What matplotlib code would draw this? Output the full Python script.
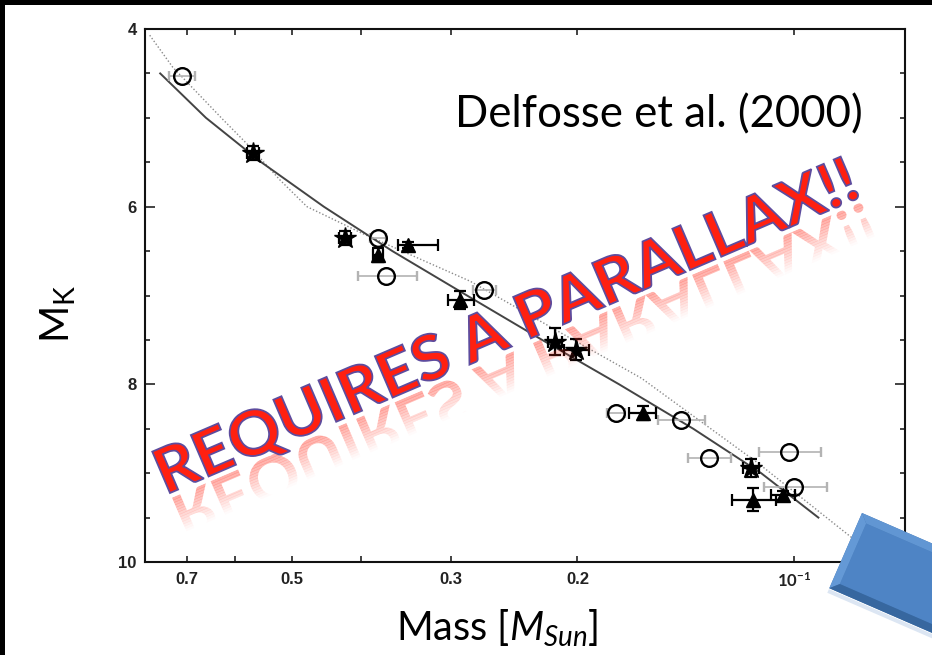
import numpy as np
import matplotlib
matplotlib.use('Agg')
import matplotlib.pyplot as plt
import matplotlib.ticker as ticker
from matplotlib import rcParams
from matplotlib.textpath import TextPath
from matplotlib.font_manager import FontProperties
from matplotlib.patches import PathPatch, Polygon, Rectangle
from matplotlib.transforms import Affine2D

rcParams['font.family']      = ['Lato', 'DejaVu Sans']
rcParams['mathtext.fontset'] = 'custom'
rcParams['mathtext.rm']      = 'Lato'
rcParams['mathtext.it']      = 'Lato:italic'
rcParams['mathtext.bf']      = 'Lato:bold'

# Data.

# Solid curve: empirical M_K - mass relation.
curve_mk   = [4.5, 5.0, 5.5, 6.0, 6.5, 7.0, 7.5, 8.0, 8.5, 9.0, 9.5]
curve_mass = [0.762, 0.658, 0.551, 0.451, 0.362, 0.285, 0.224, 0.175, 0.138, 0.111, 0.0924]

# Dotted curve: model isochrone.
model_mk   = [4.07, 4.43, 5.02, 5.33, 5.70, 6.00, 6.18, 6.30, 6.84, 7.42, 7.93, 8.89, 9.72, 9.98]
model_mass = [0.788, 0.732, 0.623, 0.571, 0.519, 0.476, 0.428, 0.399, 0.282, 0.211, 0.163, 0.112, 0.0832, 0.0755]

# Open circles (grey error bars).
circ_mass = [0.711, 0.379, 0.369, 0.270, 0.177, 0.1437, 0.1313, 0.1016, 0.100]
circ_mk   = [4.53, 6.35, 6.78, 6.94, 8.32, 8.40, 8.83, 8.76, 9.16]
circ_merr = [0.030, 0.010, 0.035, 0.010, 0.005, 0.011, 0.009, 0.010, 0.010]

# Stars.
star_mass = [0.566, 0.421, 0.215, 0.201, 0.1148]
star_mk   = [5.40, 6.35, 7.52, 7.61, 8.94]
star_merr = [0.010, 0.008, 0.005, 0.008, 0.003]
star_kerr = [0.08, 0.08, 0.15, 0.12, 0.10]

# Filled triangles.
tri_mass    = [0.344, 0.379, 0.291, 0.1623, 0.114, 0.1035]
tri_mk      = [6.43, 6.54, 7.05, 8.32, 9.30, 9.25]
tri_merr_lo = [0.031, 0.006, 0.012, 0.007, 0.008, 0.004]
tri_merr_hi = [0.012, 0.006, 0.012, 0.007, 0.008, 0.004]
tri_kerr    = [0.03, 0.08, 0.10, 0.08, 0.13, 0.05]

x_ticks       = [0.7, 0.5, 0.3, 0.2, 0.1]
x_tick_labels = ['0.7', '0.5', '0.3', '0.2', r'$\mathbf{10^{-1}}$']
x_minor       = [0.6, 0.4]
y_ticks       = [4, 6, 8, 10]

W, H = 932, 655
fig = plt.figure(figsize=(W / 100, H / 100), dpi=100, facecolor='white')

# Background axes: white slide with black top and left edges.
bg = fig.add_axes([0, 0, 1, 1], zorder=-1)
bg.set_facecolor('white')
bg.set_xticks([])
bg.set_yticks([])
for s in bg.spines.values():
    s.set_visible(False)
bg.set_xlim(0, W)
bg.set_ylim(H, 0)
bg.add_patch(Rectangle((0, 0), W, H, fc='white', ec='none', zorder=0))
bg.add_patch(Rectangle((0, 0), W, 5, fc='black', ec='none', zorder=1))
bg.add_patch(Rectangle((0, 0), 5, H, fc='black', ec='none', zorder=1))

ax = fig.add_axes([145 / W, 93 / H, 760 / W, 533 / H])
ax.set_facecolor('white')

# Curves and points.
ax.plot(model_mass, model_mk, ls=(0, (1, 1.5)), color='#8a8a8a', lw=1.0, zorder=2)
ax.plot(curve_mass, curve_mk, color='#444444', lw=1.4, zorder=2)

ax.errorbar(circ_mass, circ_mk, xerr=circ_merr, fmt='o', ms=12, mfc='none',
            mec='k', mew=1.7, ecolor='#b3b3b3', elinewidth=1.2, capsize=3.5,
            capthick=1.2, zorder=3)
ax.errorbar(star_mass, star_mk, xerr=star_merr, yerr=star_kerr, fmt='*', ms=16,
            color='k', ecolor='k', elinewidth=1.6, capsize=4.5, capthick=1.6, zorder=4)
ax.errorbar(tri_mass, tri_mk, xerr=[tri_merr_lo, tri_merr_hi], yerr=tri_kerr,
            fmt='^', ms=10, color='k', ecolor='k', elinewidth=1.6, capsize=4.5,
            capthick=1.6, zorder=4)

# Axes setup.
ax.set_xscale('log')
ax.set_xlim(0.8, 0.07)
ax.set_ylim(10, 4)
ax.xaxis.set_major_locator(ticker.FixedLocator(x_ticks))
ax.xaxis.set_major_formatter(ticker.FixedFormatter(x_tick_labels))
ax.xaxis.set_minor_locator(ticker.FixedLocator(x_minor))
ax.xaxis.set_minor_formatter(ticker.NullFormatter())
ax.yaxis.set_major_locator(ticker.FixedLocator(y_ticks))
ax.yaxis.set_minor_locator(ticker.MultipleLocator(0.5))

for spine in ax.spines.values():
    spine.set_linewidth(1.5)
    spine.set_color('#111111')

ax.tick_params(which='both', direction='in', top=True, right=True, width=1.2,
               color='#222222', labelsize=12, labelcolor='#222222')
ax.tick_params(axis='x', which='both', length=4, pad=7)
ax.tick_params(axis='y', which='major', length=7, pad=6)
ax.tick_params(axis='y', which='minor', length=3.6)
for t in ax.get_xticklabels() + ax.get_yticklabels():
    t.set_fontfamily('Liberation Sans')
    t.set_fontweight('bold')

ax.set_xlabel(r'Mass [$M_{Sun}$]', fontsize=28.5)
ax.xaxis.set_label_coords(0.463, -0.086)
ax.set_ylabel(r'M$_{\mathrm{K}}$', fontsize=29)
ax.yaxis.set_label_coords(-0.088, 0.465)

# Overlay in picture pixels (y down) for the slide decorations.
ov = fig.add_axes([0, 0, 1, 1], zorder=5)
ov.patch.set_visible(False)
ov.axis('off')
ov.set_xlim(0, W)
ov.set_ylim(H, 0)

ov.text(455, 127, 'Delfosse et al. (2000)', fontsize=31.5, color='black',
        ha='left', va='baseline')

# Red banner text with a fading reflection underneath.
fp = FontProperties(family='Lato', weight='bold')
banner = 'REQUIRES A PARALLAX!!'
tp = TextPath((0, 0), banner, size=100, prop=fp)
ext = tp.get_extents()
cap = TextPath((0, 0), 'E', size=100, prop=fp).get_extents().y1
sx = 750 / (ext.x1 - ext.x0)
sy = 45 / cap
angle = 23.2
x0, y0 = 170, 493

t_main = Affine2D().translate(-ext.x0, 0).scale(sx, -sy).rotate_deg(-angle).translate(x0, y0)
t_refl = Affine2D().translate(-ext.x0, 0).scale(sx, sy).translate(0, 5).rotate_deg(-angle).translate(x0, y0)
t_band = Affine2D().rotate_deg(-angle).translate(x0, y0) + ov.transData

n_strips, strip_w = 14, 2.6
for i in range(n_strips):
    d0 = 5 + i * strip_w
    band = Polygon([(-80, d0), (900, d0), (900, d0 + strip_w + 0.4), (-80, d0 + strip_w + 0.4)],
                   closed=True, transform=t_band)
    a = 0.42 * (1 - (i + 0.5) / n_strips)
    refl = PathPatch(tp, transform=t_refl + ov.transData, fc='#ff3a2a', ec='none',
                     alpha=a, zorder=6)
    ov.add_patch(refl)
    refl.set_clip_path(band)

ov.add_patch(PathPatch(tp, transform=t_main + ov.transData, fc='#ff2010',
                       ec='#5d4c9e', lw=1.3, zorder=7))

# Blue bevelled box in the corner.
L, h, b = 320, 82, 8
t_box = Affine2D().rotate_deg(23.5).translate(862, 513) + ov.transData
box_parts = [
    ([(0, h + 1), (L, h + 1), (L, h + 5), (0, h + 5)], '#dce6f3'),
    ([(0, 0), (L, 0), (L, h), (0, h)], '#4276b3'),
    ([(b, b), (L, b), (L, h - b), (b, h - b)], '#4e84c5'),
    ([(0, 0), (L, 0), (L, b), (b, b)], '#6196d3'),
    ([(0, 0), (b, b), (b, h - b), (0, h)], '#6499d6'),
    ([(0, h), (b, h - b), (L, h - b), (L, h)], '#37679f'),
]
for xy, c in box_parts:
    ov.add_patch(Polygon(xy, closed=True, fc=c, ec='none', transform=t_box, zorder=8))

fig.savefig('out.png', dpi=100, facecolor='white')
